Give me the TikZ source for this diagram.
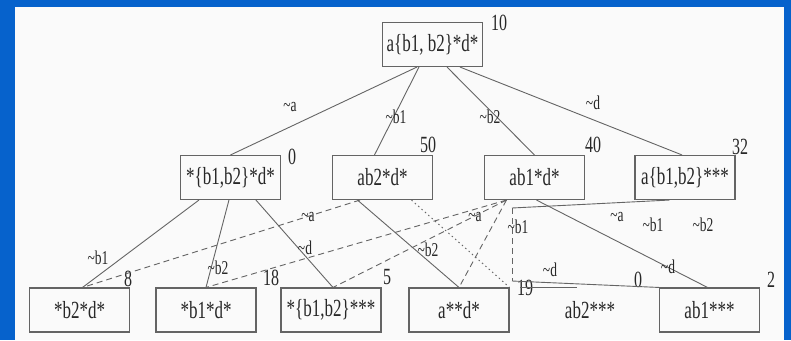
\documentclass[tikz,border=0pt]{standalone}
\usepackage{fontspec}
\setmainfont{Liberation Serif}
\usepackage{graphicx}
\definecolor{bgblue}{RGB}{6,98,204}
\definecolor{paper}{RGB}{250,250,250}
\definecolor{ink}{RGB}{100,100,100}
\definecolor{txt}{RGB}{40,40,40}
\newcommand{\vst}[1]{\scalebox{1}[1.45]{#1}}
\newcommand{\negt}{\textasciitilde}
\begin{document}
\begin{tikzpicture}[x=1pt,y=-1pt,
 box/.style={draw=ink,line width=1.1pt,minimum width=100pt,minimum height=44pt,inner sep=0pt,font=\fontsize{17}{17}\selectfont,text=txt},
 plain/.style={inner sep=0pt,font=\fontsize{17}{17}\selectfont,text=txt},
 num/.style={inner sep=0pt,font=\fontsize{16}{16}\selectfont,text=txt},
 lab/.style={inner sep=0pt,font=\fontsize{13.5}{13.5}\selectfont,text=txt},
 conn/.style={draw=ink,line width=0.9pt},
 dconn/.style={conn,dash pattern=on 6pt off 4pt},
 oconn/.style={conn,dash pattern=on 1.5pt off 3pt}]
\useasboundingbox (0,0) rectangle (791,340);
\fill[bgblue] (0,0) rectangle (791,340);
\fill[paper] (15,7) rectangle (784,340);

% nodes
\node[box] (top) at (432.5,44.5) {\vst{a\{b1, b2\}*d*}};
\node[box] (A) at (230.5,177.5) {\vst{*\{b1,b2\}*d*}};
\node[box] (B) at (382.5,177.5) {\vst{ab2*d*}};
\node[box] (C) at (534.5,177.5) {\vst{ab1*d*}};
\node[box] (D) at (685,177.5) {\vst{a\{b1,b2\}***}};
\node[box] (E) at (79.5,310) {\vst{*b2*d*}};
\node[box] (F) at (206,310) {\vst{*b1*d*}};
\node[box] (G) at (331,310) {\vst{*\{b1,b2\}***}};
\node[box] (H) at (459,310) {\vst{a**d*}};
\node[plain] (I) at (590,310) {\vst{ab2***}};
\node[box] (J) at (709.5,310) {\vst{ab1***}};

% numbers
\node[num] (n0) at (499,23) {\vst{10}};
\node[num] (n1) at (292,157) {\vst{0}};
\node[num] (n2) at (428,145) {\vst{50}};
\node[num] (n3) at (593,145) {\vst{40}};
\node[num] (n4) at (740,147) {\vst{32}};
\node[num] (n5) at (128,279) {\vst{8}};
\node[num] (n6) at (271,278) {\vst{18}};
\node[num] (n7) at (387,277) {\vst{5}};
\node[num] (n8) at (525,288) {\vst{19}};
\node[num] (n9) at (638,280) {\vst{0}};
\node[num] (n10) at (771,280) {\vst{2}};

% helper coordinates
\coordinate (k1) at (512,208);
\coordinate (k2) at (512,281);
\coordinate (k3) at (520,287);
\coordinate (k4) at (577,287);

% solid edges
\draw[conn] ([xshift=35pt]top.south west) -- (A.north);
\draw[conn] ([xshift=37pt]top.south west) -- ([xshift=-8pt]B.north);
\draw[conn] ([xshift=65pt]top.south west) -- (C.north);
\draw[conn] ([xshift=78pt]top.south west) -- ([xshift=-3pt]D.north);
\draw[conn] ([xshift=19pt]A.south west) -- ([xshift=3pt]E.north);
\draw[conn] ([xshift=49pt]A.south west) -- (F.north);
\draw[conn] ([xshift=76pt]A.south west) -- ([xshift=2pt]G.north);
\draw[conn] ([xshift=25.5pt]B.south west) -- (H.north);
\draw[conn] ([xshift=52.5pt]C.south west) -- ([xshift=-2pt]J.north);
\draw[conn] ([xshift=35pt]D.south west) -- (k1);
\draw[conn] (k2) -- (J.north west);
\draw[conn] (k3) -- (k4);

% dashed edges
\draw[dconn] ([xshift=28pt]B.south west) -- ([xshift=3pt]E.north);
\draw[dconn] ([xshift=22.5pt]C.south west) -- (F.north);
\draw[dconn] ([xshift=22.5pt]C.south west) -- ([xshift=2pt]G.north);
\draw[dconn] ([xshift=22.5pt]C.south west) -- (H.north);
\draw[dconn] (k1) -- (k2);
% dotted edge
\draw[oconn] ([xshift=79.5pt]B.south west) -- (H.north east);

% edge labels
\node[lab] (la) at (290,107) {\vst{\negt a}};
\node[lab] (lb) at (396,117) {\vst{\negt b1}};
\node[lab] (lc) at (490,117) {\vst{\negt b2}};
\node[lab] (ld) at (593,103) {\vst{\negt d}};
\node[lab] (le) at (308,217) {\vst{\negt a}};
\node[lab] (lf) at (475,217) {\vst{\negt a}};
\node[lab] (lg) at (518,227) {\vst{\negt b1}};
\node[lab] (lh) at (617,217) {\vst{\negt a}};
\node[lab] (li) at (653,225) {\vst{\negt b1}};
\node[lab] (lj) at (703,225) {\vst{\negt b2}};
\node[lab] (lk) at (98,258) {\vst{\negt b1}};
\node[lab] (ll) at (218,268) {\vst{\negt b2}};
\node[lab] (lm) at (305,248) {\vst{\negt d}};
\node[lab] (ln) at (428,250) {\vst{\negt b2}};
\node[lab] (lo) at (550,270) {\vst{\negt d}};
\node[lab] (lp) at (668,267) {\vst{\negt d}};
\end{tikzpicture}
\end{document}
